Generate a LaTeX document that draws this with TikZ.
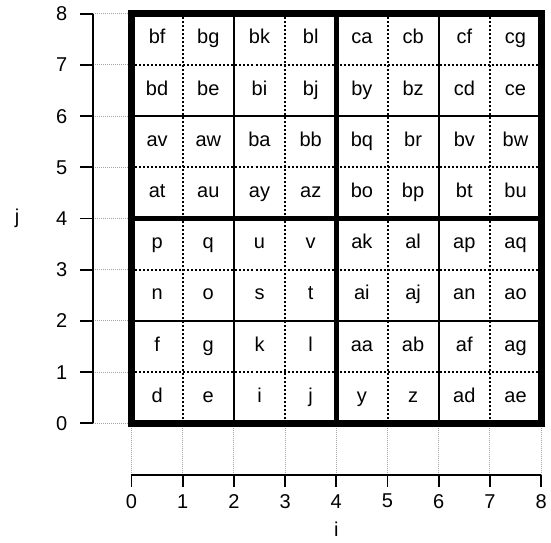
\documentclass[tikz,border=0pt]{standalone}
\usepackage{fontspec}
\setmainfont{Liberation Sans}
\begin{document}
\begin{tikzpicture}[x=38.4pt,y=38.4pt,
  bggrid/.style={gray!70,line width=0.7pt,dash pattern=on 0.75pt off 0.75pt},
  blkdot/.style={black,line width=1.5pt,dash pattern=on 1.5pt off 1.5pt},
  midline/.style={black,line width=1.6pt},
  halfline/.style={black,line width=3.75pt},
  boxline/.style={black,line width=5.2pt,line join=miter},
  axisline/.style={black,line width=1.4pt},
  celltext/.style={font=\fontsize{15}{17}\selectfont,inner sep=0pt},
  ticktext/.style={font=\fontsize{15}{17}\selectfont,inner sep=0pt}]
\useasboundingbox (-2.568,-2.318) rectangle (8.193,8.268);
% background grid
\foreach \k in {0,...,8} {
  \draw[bggrid] (-0.75,\k) -- (8,\k);
  \draw[bggrid] (\k,-1.01) -- (\k,8);
}
% cell fill to hide grid inside
\fill[white] (0,0) rectangle (8,8);
% dotted lines at odd positions
\foreach \k in {1,3,5,7} {
  \draw[blkdot] (\k,0) -- (\k,8);
  \draw[blkdot] (0,\k) -- (8,\k);
}
\foreach \k in {2,6} {
  \draw[midline] (\k,0) -- (\k,8);
  \draw[midline] (0,\k) -- (8,\k);
}
\draw[halfline] (4,0) -- (4,8);
\draw[halfline] (0,4) -- (8,4);
\draw[boxline] (0,0) rectangle (8,8);
% cell labels
\foreach \row/\labs in {0/{d,e,i,j,y,z,ad,ae},1/{f,g,k,l,aa,ab,af,ag},2/{n,o,s,t,ai,aj,an,ao},3/{p,q,u,v,ak,al,ap,aq},4/{at,au,ay,az,bo,bp,bt,bu},5/{av,aw,ba,bb,bq,br,bv,bw},6/{bd,be,bi,bj,by,bz,cd,ce},7/{bf,bg,bk,bl,ca,cb,cf,cg}} {
  \foreach \t [count=\c from 0] in \labs {
    \node[celltext] (cell-\c-\row) at (\c+0.5,\row+0.5) {\strut\t};
  }
}
% left axis
\draw[axisline] (-0.75,0) -- (-0.75,8);
\foreach \k in {0,...,8} {
  \draw[axisline] (-0.75,\k) -- (-1.0,\k);
  \node[ticktext,anchor=east] (ylab-\k) at (-1.25,\k) {\k};
}
\node[ticktext] (ylabel) at (-2.236,4) {\strut j};
% bottom axis
\draw[axisline] (0,-1.01) -- (8,-1.01);
\foreach \k in {0,...,8} {
  \draw[axisline] (\k,-1.01) -- (\k,-1.25);
  \node[ticktext] (xlab-\k) at (\k,-1.52) {\k};
}
\node[ticktext] (xlabel) at (4,-2.13) {\strut i};
\end{tikzpicture}
\end{document}
